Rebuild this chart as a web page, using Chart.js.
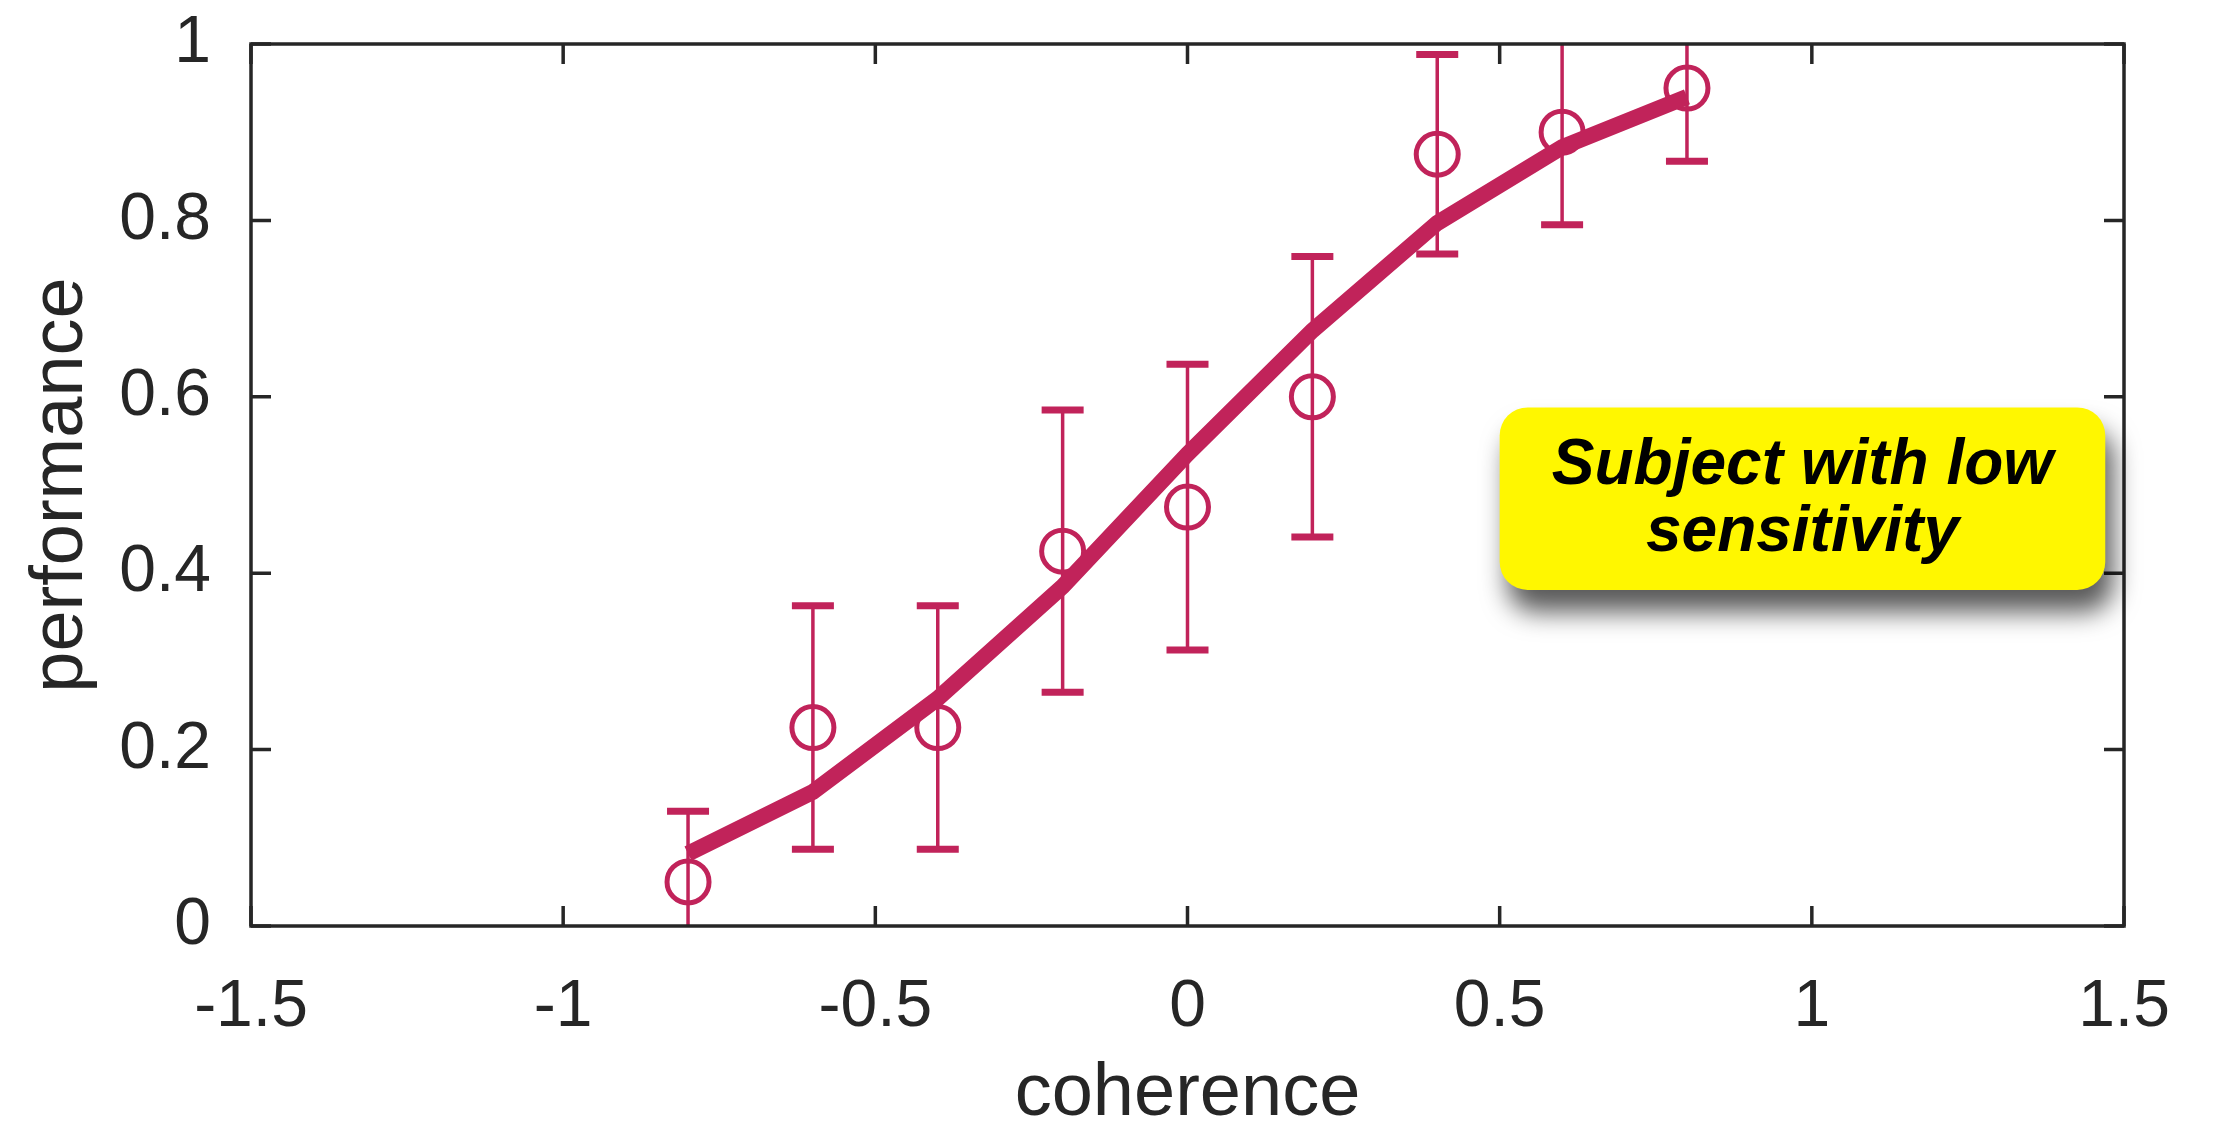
<!DOCTYPE html>
<html>
<head>
<meta charset="utf-8">
<title>performance vs coherence</title>
<script src="https://cdn.jsdelivr.net/npm/chart.js@4/dist/chart.umd.min.js"></script>
<style>
  html, body { margin: 0; padding: 0; background: #fff; }
  #chart { display: block; }
</style>
</head>
<body>
<canvas id="chart" width="2234" height="1132" style="width:2234px;height:1132px"></canvas>
<script>
// psychometric data: proportion correct per coherence level
const coherence   = [-0.8, -0.6, -0.4, -0.2, 0, 0.2, 0.4, 0.6, 0.8];
const performance = [0.05, 0.225, 0.225, 0.425, 0.475, 0.6, 0.875, 0.9, 0.95];
const errorHalf   = [0.08, 0.138, 0.138, 0.16, 0.162, 0.159, 0.113, 0.105, 0.083];
const fitted      = [0.082, 0.152, 0.258, 0.385, 0.535, 0.675, 0.797, 0.883, 0.94];

const xTickLabels = ['-1.5', '-1', '-0.5', '0', '0.5', '1', '1.5'];
const yTickLabels = ['0', '0.2', '0.4', '0.6', '0.8', '1'];
const noteLines   = ['Subject with low', 'sensitivity'];

const RED  = '#c1235a';
const INK  = '#262626';
const FONT = "'Liberation Sans', Arial, Helvetica, sans-serif";

// vertical error bars with caps, clipped to the plot box
const errorBars = {
  id: 'errorBars',
  beforeDatasetsDraw(chart) {
    const { ctx, chartArea: a, scales: { x, y } } = chart;
    ctx.save();
    ctx.beginPath();
    ctx.rect(a.left, a.top, a.right - a.left, a.bottom - a.top);
    ctx.clip();
    ctx.strokeStyle = RED;
    coherence.forEach((c, i) => {
      const px = x.getPixelForValue(c);
      const top = y.getPixelForValue(performance[i] + errorHalf[i]);
      const bot = y.getPixelForValue(performance[i] - errorHalf[i]);
      ctx.lineWidth = 3.5;
      ctx.beginPath();
      ctx.moveTo(px, top);
      ctx.lineTo(px, bot);
      ctx.stroke();
      ctx.lineWidth = 7;
      ctx.beginPath();
      ctx.moveTo(px - 21, top); ctx.lineTo(px + 21, top);
      ctx.moveTo(px - 21, bot); ctx.lineTo(px + 21, bot);
      ctx.stroke();
    });
    ctx.restore();
  }
};

// matlab-style box with inward ticks on all four sides
const frame = {
  id: 'frame',
  afterDatasetsDraw(chart) {
    const { ctx, chartArea: a, scales: { x, y } } = chart;
    const len = 20;
    ctx.save();
    ctx.strokeStyle = INK;
    ctx.lineWidth = 3.5;
    ctx.beginPath();
    x.ticks.forEach(t => {
      const px = x.getPixelForValue(t.value);
      ctx.moveTo(px, a.bottom); ctx.lineTo(px, a.bottom - len);
      ctx.moveTo(px, a.top);    ctx.lineTo(px, a.top + len);
    });
    y.ticks.forEach(t => {
      const py = y.getPixelForValue(t.value);
      ctx.moveTo(a.left, py);  ctx.lineTo(a.left + len, py);
      ctx.moveTo(a.right, py); ctx.lineTo(a.right - len, py);
    });
    ctx.stroke();
    ctx.strokeRect(a.left, a.top, a.right - a.left, a.bottom - a.top);
    ctx.restore();
  }
};

// yellow note with drop shadow
const note = {
  id: 'note',
  afterDraw(chart) {
    const { ctx, scales: { x, y } } = chart;
    const l = x.getPixelForValue(0.5), r = x.getPixelForValue(1.47);
    const t = y.getPixelForValue(0.588), b = y.getPixelForValue(0.381);
    const cx = (l + r) / 2, cy = (t + b) / 2;
    ctx.save();
    ctx.shadowColor = 'rgba(0,0,0,0.65)';
    ctx.shadowBlur = 26;
    ctx.shadowOffsetX = 8;
    ctx.shadowOffsetY = 22;
    ctx.fillStyle = '#fff700';
    ctx.beginPath();
    ctx.roundRect(l, t, r - l, b - t, 28);
    ctx.fill();
    ctx.restore();
    ctx.save();
    ctx.fillStyle = '#000';
    ctx.font = `italic bold 64px ${FONT}`;
    ctx.textAlign = 'center';
    ctx.textBaseline = 'alphabetic';
    ctx.fillText(noteLines[0], cx, cy - 15);
    ctx.fillText(noteLines[1], cx, cy + 52);
    ctx.restore();
  }
};

new Chart(document.getElementById('chart'), {
  type: 'line',
  data: {
    datasets: [
      {
        label: 'fit',
        data: coherence.map((c, i) => ({ x: c, y: fitted[i] })),
        borderColor: RED,
        borderWidth: 16,
        borderCapStyle: 'butt',
        borderJoinStyle: 'miter',
        pointRadius: 0,
        fill: false,
        tension: 0
      },
      {
        label: 'data',
        data: coherence.map((c, i) => ({ x: c, y: performance[i] })),
        showLine: false,
        pointStyle: 'circle',
        pointRadius: 21,
        pointBorderWidth: 5,
        pointBorderColor: RED,
        pointBackgroundColor: 'rgba(0,0,0,0)'
      }
    ]
  },
  options: {
    responsive: false,
    devicePixelRatio: 1,
    animation: false,
    events: [],
    layout: { padding: { top: 44, right: 110, left: 0, bottom: 0 } },
    plugins: { legend: { display: false }, tooltip: { enabled: false } },
    scales: {
      x: {
        type: 'linear',
        min: -1.5, max: 1.5,
        grid: { display: false },
        border: { display: false },
        ticks: {
          stepSize: 0.5,
          padding: 34,
          color: INK,
          font: { family: FONT, size: 66 },
          maxRotation: 0,
          callback: (v, i) => xTickLabels[i]
        },
        title: {
          display: true,
          text: 'coherence',
          color: INK,
          font: { family: FONT, size: 74, lineHeight: 1 },
          padding: { top: 0, bottom: 0 }
        },
        afterFit: s => {
          s.height = 206;
          s.paddingLeft = 0;
          s.paddingRight = 0;
        }
      },
      y: {
        type: 'linear',
        min: 0, max: 1,
        grid: { display: false },
        border: { display: false },
        ticks: {
          stepSize: 0.2,
          padding: 32,
          color: INK,
          font: { family: FONT, size: 66 },
          callback: (v, i) => yTickLabels[i]
        },
        title: {
          display: true,
          text: 'performance',
          color: INK,
          font: { family: FONT, size: 74, lineHeight: 1 },
          padding: { top: 25, bottom: 0 }
        },
        afterFit: s => {
          s.width = 251;
          s.paddingTop = 0;
          s.paddingBottom = 0;
        }
      }
    }
  },
  plugins: [errorBars, frame, note]
});
</script>
</body>
</html>
